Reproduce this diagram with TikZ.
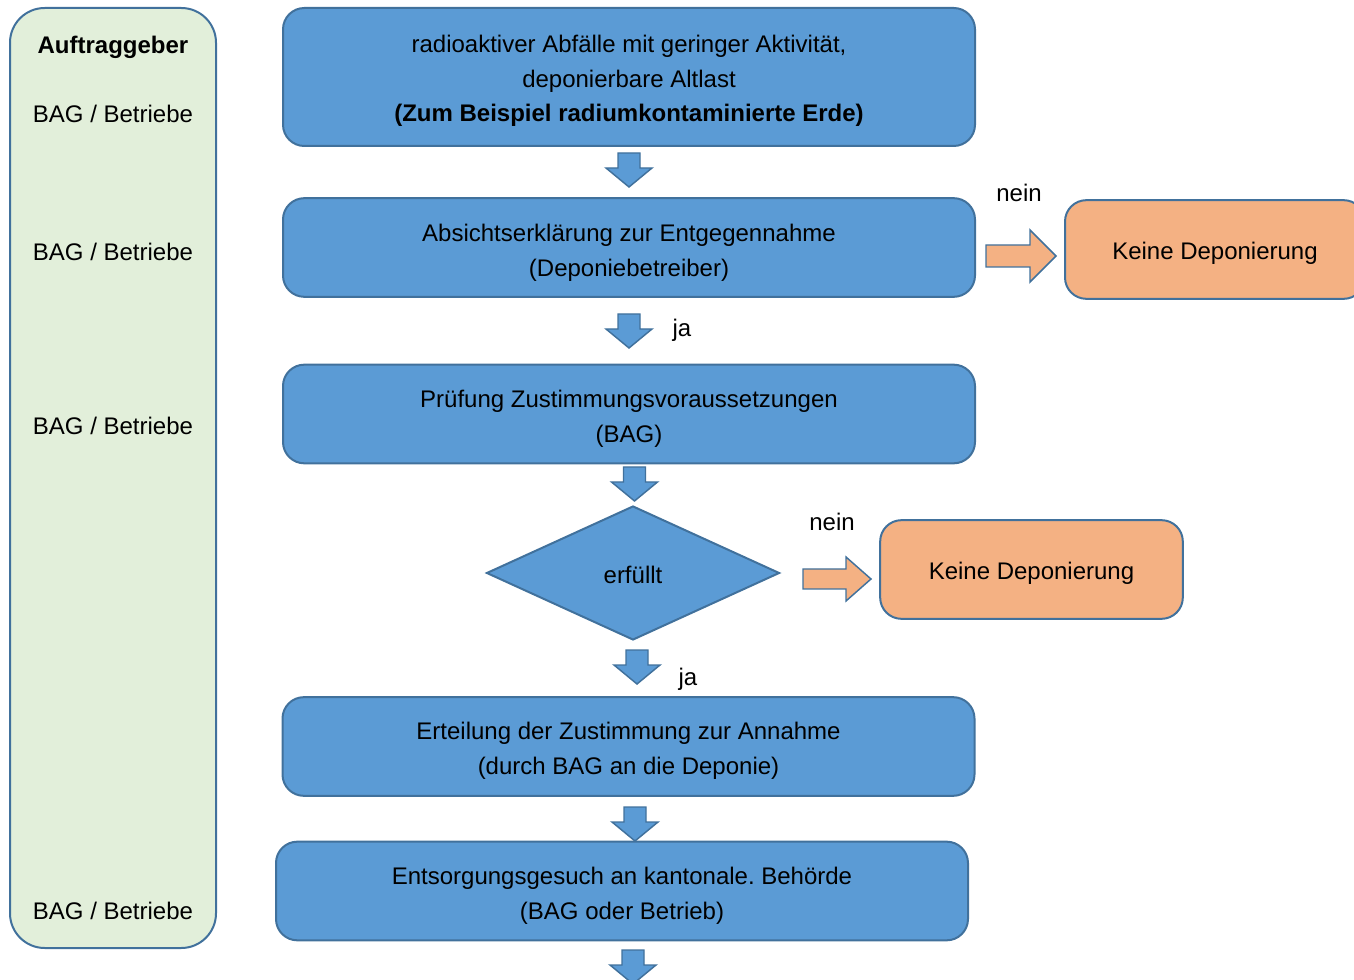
\documentclass[tikz,border=0pt]{standalone}
\usepackage{fontspec}
\setmainfont{Liberation Sans}
\frenchspacing
\usetikzlibrary{shapes.geometric}
\definecolor{bfill}{HTML}{5B9BD5}
\definecolor{bline}{HTML}{41719C}
\definecolor{ofill}{HTML}{F4B183}
\definecolor{gfill}{HTML}{E2EFDA}
\tikzset{
  panel/.style={draw=bline, line width=1.5pt, fill=gfill, rounded corners=26pt, minimum width=154.5pt, minimum height=705pt, inner sep=0pt},
  box/.style={draw=bline, line width=1.5pt, fill=bfill, rounded corners=16pt, minimum width=519pt, minimum height=74pt, inner sep=0pt},
  obox/.style={draw=bline, line width=1.5pt, fill=ofill, rounded corners=16pt, minimum width=227pt, minimum height=74pt, inner sep=0pt},
  dia/.style={draw=bline, line width=1.5pt, fill=bfill, diamond, minimum width=219.75pt, minimum height=100.5pt, inner sep=0pt},
  barrow/.style={draw=bline, line width=1.1pt, fill=bfill, line join=miter},
  oarrow/.style={draw=bline, line width=1.1pt, fill=ofill, line join=miter},
  lbl/.style={inner sep=0pt, anchor=center, align=center},
  dnarr/.pic={\path[barrow] (-11,0) -- (11,0) -- (11,15) -- (23,15) -- (0,34) -- (-23,15) -- (-11,15) -- cycle;},
}
\begin{document}
\begin{tikzpicture}[x=0.75pt,y=-0.75pt, font=\fontsize{18}{26}\selectfont]
\useasboundingbox (0,0) rectangle (1354,980);
% left panel
\node[panel] (panel) at (113,478) {};
\node[lbl] (auf) at (113,47) {\textbf{Auftraggeber}};
\node[lbl] (l1) at (113,114) {BAG / Betriebe};
\node[lbl] (l2) at (113,252) {BAG / Betriebe};
\node[lbl] (l3) at (113,426) {BAG / Betriebe};
\node[lbl] (l4) at (113,911) {BAG / Betriebe};
% main boxes
\node[box, minimum height=103.5pt] (b1) at (629,77) {};
\node[lbl] (t1) at (629,81) {radioaktiver Abfälle mit geringer Aktivität,\\deponierbare Altlast\\\textbf{(Zum Beispiel radiumkontaminierte Erde)}};
\node[box] (b2) at (629,247.5) {};
\node[lbl] (t2) at (629,253) {Absichtserklärung zur Entgegennahme\\(Deponiebetreiber)};
\node[box] (b3) at (629,414) {};
\node[lbl] (t3) at (629,419) {Prüfung Zustimmungsvoraussetzungen\\(BAG)};
\node[dia] (d) at (633,573) {};
\node[lbl] (dt) at (633,575) {erfüllt};
\node[box] (b4) at (628.5,746.5) {};
\node[lbl] (t4) at (628.5,751) {Erteilung der Zustimmung zur Annahme\\(durch BAG an die Deponie)};
\node[box] (b5) at (622,891) {};
\node[lbl] (t5) at (622,896) {Entsorgungsgesuch an kantonale. Behörde\\(BAG oder Betrieb)};
% orange boxes
\node[obox, minimum width=225pt] (o1) at (1215,249.5) {};
\node[lbl] (ot1) at (1215,253) {Keine Deponierung};
\node[obox] (o2) at (1031.5,569.5) {};
\node[lbl] (ot2) at (1031.5,573) {Keine Deponierung};
% down arrows
\pic at (629,153) {dnarr};
\pic at (629,314) {dnarr};
\pic at (634.5,467) {dnarr};
\pic at (637,650) {dnarr};
\pic at (635,807) {dnarr};
\pic at (633,950) {dnarr};
% right arrows
\path[oarrow] (986,245) -- (1030,245) -- (1030,230) -- (1056,256) -- (1030,282) -- (1030,267) -- (986,267) -- cycle;
\path[oarrow] (803,569) -- (846,569) -- (846,557) -- (871,579) -- (846,601) -- (846,589) -- (803,589) -- cycle;
% labels
\node[lbl] (n1) at (1019,193) {nein};
\node[lbl] (n2) at (832,522) {nein};
\node[lbl] (j1) at (682,330) {ja};
\node[lbl] (j2) at (688,679) {ja};
\end{tikzpicture}
\end{document}
